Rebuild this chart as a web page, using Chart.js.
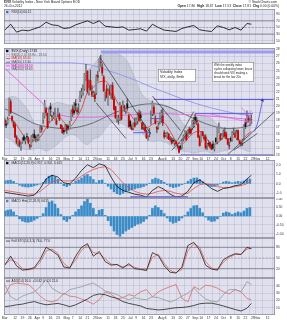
<!DOCTYPE html>
<html>
<head>
<meta charset="utf-8">
<script src="https://cdn.jsdelivr.net/npm/chart.js@4.4.0/dist/chart.umd.min.js"></script>
<style>
  body { margin: 0; background: #fff; width: 287px; height: 320px; overflow: hidden; position: relative; }
  canvas { position: absolute; left: 0; }
</style>
</head>
<body>
<canvas id="rsi" width="287" height="44" style="top:0px"></canvas>
<canvas id="main" width="287" height="116" style="top:44px"></canvas>
<canvas id="macd" width="287" height="38" style="top:160px"></canvas>
<canvas id="hist" width="287" height="40" style="top:198px"></canvas>
<canvas id="stoch" width="287" height="40" style="top:238px"></canvas>
<canvas id="adx" width="287" height="42" style="top:278px"></canvas>
<script>
// trading days counted from 1-Mar-2012 (day 0)
var tickDays   = [0, 7, 12, 17, 22, 26, 31, 36, 42, 46, 51, 56, 61, 64, 70, 75, 80, 85, 89, 94, 99, 106, 109, 114, 119, 124, 129, 133, 138, 143, 148, 153, 158, 163, 168, 171, 178];
var tickLabels = ['Mar', '12', '19', '26', 'Apr', '9', '16', '23', 'May', '7', '14', '21', '29', 'Jun', '11', '18', '25', 'Jul', '9', '16', '23', 'Aug', '6', '13', '20', '27', 'Sep', '10', '17', '24', 'Oct', '8', '15', '22', '29', 'Nov', '12'];

// daily candles, Mar .. Oct
var opens = [
	18.0, 17.4, 17.6, 18.8, 20.6, 18.5, 17.6, 17.3, 15.6, 14.6, 15.0, 14.3, 14.9, 15.6, 15.1, 15.6, 15.4, 14.5, 14.4, 15.3, 16.0, 15.5,
	15.4, 15.3, 16.4, 16.9, 18.0, 18.5, 19.6, 18.9, 17.9, 19.9, 18.6, 18.4, 18.2, 17.9, 18.9, 18.7, 17.3, 16.9, 16.5, 16.7,
	17.2, 17.1, 16.8, 18.1, 19.6, 19.3, 20.3, 19.4, 19.8, 20.9, 21.6, 21.9, 22.4, 24.4, 24.9, 21.9, 23.6, 22.0, 21.5, 21.6, 21.9, 24.3,
	25.2, 26.2, 25.5, 24.1, 21.6, 22.4, 20.3, 22.2, 21.8, 22.9, 21.0, 19.9, 18.2, 18.1, 18.3, 19.9, 19.4, 20.0, 19.3, 20.3, 18.6,
	17.8, 17.0, 16.9, 17.6, 17.7, 17.9, 19.0, 18.7, 17.6, 17.1, 17.0, 16.4, 15.4, 16.2, 18.5, 18.9, 19.8, 18.3, 17.0, 17.0, 17.8,
	18.6, 18.6, 16.2, 15.9, 15.7, 16.0, 15.3, 15.2, 15.1, 14.8, 14.9, 14.4, 14.2, 14.3, 14.1, 15.3, 15.8, 16.1, 16.0, 16.7, 16.7, 16.8, 17.5,
	18.4, 17.9, 17.4, 15.6, 15.0, 16.3, 15.6, 15.6, 14.5, 14.6, 14.8, 14.4, 14.6, 13.9, 15.4, 14.9, 16.4, 15.9, 15.5,
	16.2, 16.3, 16.0, 15.3, 14.4, 15.4, 15.2, 16.3, 16.1, 15.4, 16.5, 15.0, 14.8, 14.8, 15.5, 17.6, 18.0, 18.2, 17.5, 17.8
];
var highs = [
	18.3, 17.9, 18.4, 21.1, 20.9, 18.6, 17.8, 17.6, 15.8, 15.4, 15.2, 14.8, 15.5, 15.9, 15.5, 16.1, 15.6, 14.6, 15.8, 16.0, 16.6, 15.8,
	15.9, 16.0, 17.2, 17.1, 19.0, 20.8, 19.8, 19.0, 19.7, 20.4, 18.7, 19.1, 19.7, 18.3, 19.7, 19.0, 17.4, 17.2, 16.9, 17.4,
	17.4, 17.3, 17.8, 19.4, 20.0, 20.5, 20.9, 19.8, 20.3, 22.1, 22.5, 23.0, 24.6, 25.9, 25.0, 23.7, 25.1, 22.9, 22.1, 22.0, 24.4, 24.9,
	26.7, 27.2, 26.0, 24.3, 22.0, 23.0, 22.4, 22.8, 23.0, 23.3, 21.3, 19.9, 18.5, 18.7, 20.5, 20.1, 20.7, 20.1, 19.6, 21.0, 18.8,
	18.0, 17.3, 17.6, 18.3, 18.3, 19.0, 19.4, 19.2, 17.7, 17.6, 17.3, 16.6, 15.8, 16.8, 19.3, 20.7, 20.1, 18.6, 17.1, 17.6, 19.0,
	19.4, 19.7, 16.5, 16.2, 16.3, 16.1, 15.7, 15.5, 15.4, 15.2, 15.1, 14.6, 14.3, 14.4, 15.3, 15.9, 16.5, 16.4, 16.6, 17.0, 16.9, 18.0, 18.4,
	18.9, 18.4, 17.6, 15.8, 16.4, 16.4, 15.9, 15.9, 14.7, 15.1, 14.9, 14.6, 15.0, 14.6, 15.5, 16.9, 17.6, 16.1, 16.1,
	16.6, 16.9, 16.3, 15.4, 14.9, 15.6, 16.4, 16.9, 16.5, 16.6, 16.6, 15.1, 14.9, 15.3, 17.4, 18.1, 19.3, 18.6, 18.3, 18.7
];
var lows = [
	17.0, 16.9, 17.4, 18.6, 18.9, 17.7, 16.9, 15.5, 14.6, 14.3, 14.2, 13.7, 14.7, 15.0, 14.6, 15.2, 14.6, 13.9, 14.2, 14.9, 15.3, 14.9,
	15.0, 15.1, 16.2, 16.3, 17.5, 18.3, 18.6, 16.8, 17.7, 18.6, 17.9, 18.2, 18.0, 17.3, 18.4, 17.9, 16.8, 16.1, 16.0, 16.4,
	16.1, 16.6, 16.7, 17.9, 18.5, 18.8, 19.3, 18.8, 19.0, 20.6, 21.1, 21.5, 22.2, 23.6, 21.8, 21.5, 22.2, 21.3, 21.3, 20.6, 21.6, 23.5,
	24.9, 25.6, 24.3, 22.0, 20.7, 21.1, 20.1, 21.5, 21.0, 20.9, 19.4, 18.2, 17.7, 17.4, 17.9, 18.0, 19.3, 19.2, 18.9, 19.4, 17.0,
	16.8, 16.6, 16.6, 17.0, 17.3, 17.4, 17.9, 17.9, 16.7, 16.6, 16.3, 15.4, 15.1, 15.6, 17.4, 18.6, 18.7, 17.4, 16.2, 16.7, 17.4,
	17.7, 17.2, 15.4, 15.6, 15.4, 15.2, 15.0, 14.6, 14.7, 14.4, 14.5, 14.0, 13.3, 13.8, 13.9, 15.0, 15.3, 15.1, 15.6, 16.0, 16.0, 16.6, 16.9,
	17.5, 17.3, 15.5, 14.3, 14.9, 15.7, 15.1, 13.9, 13.8, 14.3, 14.0, 13.8, 13.9, 13.6, 14.7, 14.6, 16.2, 15.1, 15.2,
	15.6, 15.6, 15.3, 14.5, 13.9, 14.9, 15.0, 15.9, 15.5, 15.2, 15.1, 14.6, 14.3, 14.4, 15.2, 16.8, 17.6, 17.7, 17.3, 17.5
];
var closes = [
	17.26, 17.29, 18.05, 20.87, 19.07, 17.95, 17.13, 15.64, 14.80, 15.31, 14.47, 14.47, 15.04, 15.13, 15.13, 15.57, 14.82, 14.26, 15.59, 15.47, 15.48, 15.50,
	15.64, 15.66, 16.80, 16.70, 18.81, 20.39, 19.03, 16.95, 19.55, 19.55, 18.46, 18.64, 18.36, 17.44, 18.97, 18.10, 16.82, 16.24, 16.32, 17.15,
	16.60, 16.88, 17.56, 19.16, 18.94, 19.05, 20.08, 19.17, 19.89, 21.87, 21.97, 22.27, 24.49, 25.10, 22.01, 22.48, 22.33, 21.54, 21.76, 21.03, 24.14, 24.06,
	26.66, 26.12, 24.68, 22.16, 21.72, 21.23, 22.09, 21.68, 22.73, 21.11, 19.50, 18.32, 18.38, 18.11, 20.08, 18.11, 20.10, 19.72, 19.45, 19.71, 17.08,
	17.11, 16.66, 17.50, 17.10, 17.98, 18.72, 17.95, 18.33, 16.74, 17.11, 16.48, 15.45, 15.45, 16.27, 18.62, 20.47, 18.98, 17.53, 16.70, 17.22, 18.93,
	18.96, 17.57, 15.64, 15.95, 15.99, 15.32, 15.28, 14.74, 15.02, 14.85, 14.63, 14.28, 13.45, 14.02, 15.01, 15.73, 16.27, 15.18, 16.35, 16.29, 16.17, 17.83, 17.47,
	17.98, 17.74, 15.60, 14.38, 16.28, 15.80, 15.38, 14.05, 14.51, 14.59, 14.18, 13.88, 13.98, 14.51, 14.92, 16.81, 16.95, 15.23, 15.73,
	16.32, 15.71, 15.43, 14.55, 14.33, 15.11, 16.14, 16.35, 15.64, 16.14, 15.21, 14.67, 14.56, 15.10, 17.06, 17.08, 18.46, 18.05, 17.81, 17.81
];

// indicator readings, every 4th day
var sampleDays = [0, 4, 8, 12, 16, 20, 24, 28, 32, 36, 40, 44, 48, 52, 56, 60, 64, 68, 72, 76, 80, 84, 88, 92, 96, 100, 104, 108, 112, 116, 120, 124, 128, 132, 136, 140, 144, 148, 152, 156, 160, 164, 167];
var ma10    = [17.8, 18.2, 17.3, 16.0, 15.0, 15.1, 15.6, 16.9, 18.0, 18.6, 17.7, 17.1, 18.0, 19.6, 21.9, 22.6, 23.4, 23.5, 22.4, 20.6, 19.4, 19.0, 18.0, 17.7, 16.9, 17.4, 17.8, 17.6, 16.4, 15.0, 14.6, 15.4, 16.2, 16.4, 15.6, 14.5, 14.7, 15.5, 15.3, 15.6, 15.1, 15.9, 16.4];
var bbUpper = [20.8, 21.3, 21.2, 20.4, 19.3, 17.6, 17.0, 19.5, 20.2, 20.5, 20.3, 20.1, 20.4, 22.4, 25.0, 25.8, 26.8, 27.5, 27.6, 27.4, 27.0, 26.0, 24.0, 22.0, 21.0, 20.6, 20.3, 20.2, 19.8, 19.2, 17.7, 17.0, 17.7, 18.4, 18.5, 18.2, 17.3, 16.9, 16.8, 16.6, 16.5, 18.2, 18.9];
var bbLower = [15.6, 15.2, 14.4, 13.9, 13.8, 13.9, 14.0, 13.6, 14.0, 14.6, 15.4, 15.9, 15.8, 15.0, 14.5, 15.3, 15.6, 16.7, 17.6, 17.7, 17.4, 16.9, 16.5, 16.4, 15.4, 15.0, 15.1, 14.9, 14.5, 13.8, 13.6, 13.5, 13.3, 13.5, 13.6, 13.3, 13.4, 13.6, 13.8, 14.0, 14.0, 13.6, 13.5];
var rsiValues  = [42, 60, 36, 42, 40, 46, 52, 66, 58, 56, 47, 49, 58, 64, 70, 62, 70, 54, 52, 50, 52, 42, 44, 46, 39, 60, 50, 42, 40, 38, 47, 52, 56, 43, 40, 38, 55, 50, 43, 50, 42, 62, 60];
var macdLine   = [-0.9, -1.0, -1.1, -1.2, -1.3, -1.2, -0.5, 0.5, 0.9, 0.7, 0.1, 0.0, 0.6, 1.4, 2.0, 1.7, 2.1, 1.9, 0.7, -0.3, -0.7, -0.9, -1.1, -1.2, -1.4, -0.7, -0.3, -0.6, -1.1, -1.4, -1.3, -0.8, 0.1, 0.4, 0.0, -0.5, -0.8, -0.5, -0.4, -0.2, -0.1, 0.5, 0.9];
var macdSignal = [-0.7, -0.8, -0.9, -1.0, -1.1, -1.1, -0.8, -0.3, 0.2, 0.4, 0.3, 0.3, 0.4, 0.8, 1.2, 1.5, 1.7, 1.8, 1.5, 0.8, 0.1, -0.4, -0.8, -1.0, -1.1, -1.0, -0.8, -0.7, -0.8, -1.0, -1.1, -1.0, -0.5, -0.1, 0.0, -0.1, -0.3, -0.4, -0.4, -0.3, -0.2, 0.0, 0.3];
var stochK = [30, 55, 28, 16, 18, 23, 46, 80, 70, 58, 25, 22, 55, 80, 90, 55, 68, 40, 30, 32, 22, 34, 20, 18, 15, 65, 57, 28, 10, 8, 25, 85, 94, 72, 30, 19, 16, 45, 55, 62, 60, 80, 76];
var stochD = [32, 45, 38, 20, 17, 20, 38, 70, 75, 63, 35, 22, 45, 72, 86, 65, 62, 48, 33, 31, 25, 30, 24, 19, 16, 52, 60, 35, 15, 9, 18, 70, 90, 80, 40, 22, 17, 38, 52, 60, 60, 75, 77];
var adxValues = [11.5, 12.5, 14, 15, 17, 18.5, 16, 14, 15, 16, 14, 11.5, 14, 18, 22, 27, 29, 28, 25, 23, 18.5, 16, 14.3, 12.5, 9, 8, 7, 7.6, 9, 10, 10.4, 11.3, 13, 15.5, 16.3, 16.3, 14.6, 12.5, 10, 7.6, 5.5, 9.3, 16];
var plusDI    = [42, 25, 21, 26, 29, 32, 39, 49, 37, 32, 28, 35, 37, 39, 42, 44, 39, 33, 31, 28, 24, 21, 24, 22, 21, 25, 24, 21, 18, 21, 26, 30, 37, 29, 22, 19, 18, 28, 35, 35, 32, 46, 42];
var minusDI   = [28, 42, 44, 43, 42, 35, 26, 20, 18, 21, 30, 26, 25, 22, 19, 15, 21, 32, 29, 22, 24, 28, 26, 32, 35, 25, 32, 36, 39, 42, 23, 18, 39, 35, 41, 40, 37, 32, 29, 35, 32, 23, 21];

// histogram, every 2nd day
var histDays = [0, 2, 4, 6, 8, 10, 12, 14, 16, 18, 20, 22, 24, 26, 28, 30, 32, 34, 36, 38, 40, 42, 44, 46, 48, 50, 52, 54, 56, 58, 60, 62, 64, 66, 68, 70, 72, 74, 76, 78, 80, 82, 84, 86, 88, 90, 92, 94, 96, 98, 100, 102, 104, 106, 108, 110, 112, 114, 116, 118, 120, 122, 124, 126, 128, 130, 132, 134, 136, 138, 140, 142, 144, 146, 148, 150, 152, 154, 156, 158, 160, 162, 164, 166];
var histValues = [
	0.30, 0.35, 0.38, 0.25, 0.05, -0.15, -0.28, -0.33, -0.35, -0.30,
	-0.22, -0.12, -0.02, 0.15, 0.50, 0.80, 0.88, 0.70, 0.45, 0.10,
	-0.20, -0.30, -0.15, 0.05, 0.25, 0.40, 0.60, 0.85, 0.98, 0.75,
	0.45, 0.10, 0.35, 0.40, 0.05, -0.25, -0.55, -0.85, -1.05, -1.15,
	-1.00, -0.85, -0.75, -0.65, -0.55, -0.45, -0.40, -0.30, -0.15, 0.05,
	0.45, 0.60, 0.50, 0.35, 0.15, -0.10, -0.30, -0.40, -0.35, -0.25,
	-0.10, 0.05, 0.25, 0.45, 0.60, 0.62, 0.45, 0.20, -0.05, -0.22,
	-0.30, -0.28, -0.15, 0.00, 0.18, 0.25, 0.20, 0.10, 0.18, 0.25,
	0.20, 0.30, 0.45, 0.50
];

// slow moving averages, sparse readings
var ma50Days  = [0, 10, 20, 30, 40, 50, 60, 70, 80, 90, 100, 110, 120, 130, 140, 150, 160, 167];
var ma50      = [19.6, 18.6, 17.5, 17.0, 16.8, 17.0, 17.6, 18.6, 19.5, 20.1, 20.3, 19.9, 19.0, 18.0, 17.2, 16.8, 16.9, 17.3];
var ma100Days = [0, 8, 16, 24, 31, 40, 50, 60, 75, 90, 105, 120, 135, 150, 160, 167];
var ma100     = [25.3, 23.8, 22.2, 20.7, 19.3, 18.6, 18.4, 18.4, 18.6, 18.8, 18.9, 18.8, 18.6, 18.4, 18.2, 18.1];
var ma200Days = [0, 20, 40, 58, 70, 80, 90, 100, 110, 120, 130, 140, 150, 160, 167];
var ma200     = [26.0, 26.1, 26.1, 25.8, 25.0, 24.3, 23.5, 22.6, 21.8, 21.0, 20.3, 19.7, 19.2, 18.8, 18.6];

// hand drawn lines: [day1, value1, day2, value2]
var blackTrends = [[64, 27.0, 99, 16.0], [62, 20.4, 82, 15.4], [100, 21.4, 119, 16.5], [113, 13.7, 129, 17.2], [117, 15.1, 128, 19.2], [151, 13.1, 183, 19.2], [155, 13.7, 171, 16.1]];
var pinkTrends  = [[138, 18.9, 168, 17.6], [160, 19.8, 168, 18.0], [161, 17.0, 167, 19.4]];
// levels: [day1, day2, value]
var blueLevels  = [[101, 182, 20.9], [129, 168, 18.9], [119, 182, 13.05], [87, 99, 16.2], [99, 107, 18.2]];
var resistBand  = [65, 184, 27.65];
var macdLevel   = [85, 124, -1.4];
var arrowDays   = [169, 171, 173, 174.5];
var arrowVals   = [16.4, 17.4, 19.2, 20.8];
var rsiLevels   = [70, 30];
var stochLevels = [80, 20];

var FONT = "'Liberation Sans', Arial, sans-serif";
var PANEL_BG = '#e1e1ed';
var GRID = 'rgba(150,150,190,0.45)';

function pts(days, vals) {
	return days.map(function(d, i) { return {x: d, y: vals[i]}; });
}
function seg(d1, v1, d2, v2) {
	return [{x: d1, y: v1}, {x: d2, y: v2}];
}
function line(data, color, width, extra) {
	return Object.assign({type: 'line', data: data, borderColor: color, borderWidth: width, pointRadius: 0, fill: false, order: 5}, extra || {});
}
function bars(data, color, thick, extra) {
	return Object.assign({type: 'bar', data: data, backgroundColor: color, barThickness: thick, grouped: false, borderWidth: 0, order: 3}, extra || {});
}

function xScale(labelHeight) {
	return {
		type: 'linear', min: -0.5, max: 183, offset: false,
		afterBuildTicks: function(s) { s.ticks = tickDays.map(function(v) { return {value: v}; }); },
		afterFit: function(s) { s.height = labelHeight; s.paddingLeft = 0; s.paddingRight = 0; },
		grid: {color: GRID, lineWidth: 0.6, drawTicks: false},
		border: {display: false},
		ticks: {
			display: labelHeight > 0, autoSkip: false, maxRotation: 0, padding: 1,
			font: {size: 3.4, family: FONT}, color: '#333',
			callback: function(v) { var k = tickDays.indexOf(v); return k < 0 ? '' : tickLabels[k]; }
		}
	};
}
function yScale(min, max, ticks, fmt) {
	return {
		position: 'right', min: min, max: max,
		afterBuildTicks: function(s) { s.ticks = ticks.map(function(v) { return {value: v}; }); },
		afterFit: function(s) { s.width = 12; s.paddingTop = 0; s.paddingBottom = 0; },
		grid: {color: GRID, lineWidth: 0.6, drawTicks: false},
		border: {display: false},
		ticks: {autoSkip: false, padding: 1, font: {size: 3.3, family: FONT}, color: '#333', callback: fmt || function(v) { return v; }}
	};
}

function drawLegend(ctx, a, items) {
	ctx.font = '3.2px ' + FONT;
	ctx.textBaseline = 'top';
	items.forEach(function(it, i) {
		var x = a.left + 2, y = a.top + 1.5 + i * 3.7;
		if (it.bg) {
			ctx.fillStyle = it.bg;
			ctx.fillRect(x - 0.5, y - 0.4, ctx.measureText(it.text).width + 7, 3.6);
		}
		if (it.box) {
			ctx.fillStyle = it.box;
			ctx.fillRect(x, y + 0.3, 2.4, 2.4);
		} else {
			ctx.fillStyle = it.mark;
			ctx.fillRect(x, y + 1.2, 4, 0.7);
		}
		ctx.fillStyle = it.color;
		ctx.fillText(it.text, x + 5.5, y);
	});
}

function decor(legend, extra) {
	return {
		id: 'decor',
		beforeDraw: function(chart) {
			var ctx = chart.ctx, a = chart.chartArea;
			ctx.save();
			ctx.fillStyle = PANEL_BG;
			ctx.fillRect(a.left, a.top, a.right - a.left, a.bottom - a.top);
			ctx.restore();
		},
		afterDraw: function(chart) {
			var ctx = chart.ctx, a = chart.chartArea;
			ctx.save();
			ctx.strokeStyle = '#8c8c9c';
			ctx.lineWidth = 0.8;
			ctx.strokeRect(a.left + 0.4, a.top + 0.4, a.right - a.left - 0.8, a.bottom - a.top - 0.8);
			drawLegend(ctx, a, legend);
			if (extra) extra(ctx, a);
			ctx.restore();
		}
	};
}

function panel(id, datasets, y, labelHeight, padTop, legend, extra) {
	return new Chart(document.getElementById(id), {
		type: 'bar',
		data: {datasets: datasets},
		options: {
			responsive: false, animation: false, devicePixelRatio: 1, events: [],
			layout: {padding: {left: 4, right: 0, top: padTop, bottom: 0}},
			plugins: {legend: {display: false}, tooltip: {enabled: false}},
			scales: {x: xScale(labelHeight), y: y}
		},
		plugins: [decor(legend, extra)]
	});
}

function drawParts(ctx, parts, x, y, alignRight) {
	var w = 0;
	parts.forEach(function(p) { ctx.font = (p[1] ? 'bold ' : '') + '3.3px ' + FONT; w += ctx.measureText(p[0]).width; });
	var cx = alignRight ? x - w : x;
	parts.forEach(function(p) {
		ctx.font = (p[1] ? 'bold ' : '') + '3.3px ' + FONT;
		ctx.fillText(p[0], cx, y);
		cx += ctx.measureText(p[0]).width;
	});
}

function levelLines(levels, color) {
	return levels.map(function(v) { return line(seg(-1, v, 184, v), color, 0.7, {order: 8}); });
}

// ---- RSI + header ----
panel('rsi',
	[line(pts(sampleDays, rsiValues), '#1a1a1a', 0.9, {order: 1}),
	 line(seg(-1, 50, 184, 50), '#8a8a9a', 0.6, {borderDash: [2, 1.5], order: 8})].concat(levelLines(rsiLevels, '#6a6a7a')),
	yScale(0, 106, [10, 30, 50, 70, 90]), 0, 9,
	[{box: '#3a70c0', text: 'RSI(14) 60.12', color: '#222'}],
	function(ctx) {
		ctx.fillStyle = '#222';
		ctx.textBaseline = 'top';
		drawParts(ctx, [['$VIX', 1], [' Volatility Index - New York Board Options EOD', 0]], 4, 0.8, false);
		drawParts(ctx, [['26-Oct-2012', 0]], 4, 4.6, false);
		drawParts(ctx, [['\u00a9 StockCharts.com', 0]], 277, 0.8, true);
		drawParts(ctx, [['Open', 1], [' 17.80  ', 0], ['High', 1], [' 18.67  ', 0], ['Low', 1], [' 17.53  ', 0], ['Close', 1], [' 17.81  ', 0], ['Chg', 1], [' 0.00 (0.00%)', 0]], 279, 4.6, true);
	});

// ---- price panel ----
var bodyColors = closes.map(function(c, i) {
	var up = i === 0 ? c >= opens[0] : c >= closes[i - 1];
	var hollow = c > opens[i];
	if (up) return hollow ? '#909090' : '#151515';
	return hollow ? '#e47878' : '#d40000';
});
var wickData = closes.map(function(c, i) { return {x: i, y: [lows[i], highs[i]]}; });
var bodyData = closes.map(function(c, i) { return {x: i, y: [Math.min(opens[i], c), Math.max(opens[i], c)]}; });

var mainSets = [
	line(pts(sampleDays, bbUpper), 'rgba(150,156,168,0.7)', 0.5, {fill: '+1', backgroundColor: 'rgba(168,175,190,0.42)', tension: 0.3, order: 20}),
	line(pts(sampleDays, bbLower), 'rgba(150,156,168,0.7)', 0.5, {tension: 0.3, order: 21}),
	line(pts(ma200Days, ma200), '#9a9ae8', 1, {cubicInterpolationMode: 'monotone', order: 10}),
	line(pts(ma100Days, ma100), '#e060e0', 0.9, {cubicInterpolationMode: 'monotone', order: 10}),
	line(pts(ma50Days, ma50), '#555560', 0.8, {cubicInterpolationMode: 'monotone', order: 10}),
	line(pts(sampleDays, ma10), '#e03030', 0.8, {cubicInterpolationMode: 'monotone', order: 9}),
	bars(wickData, '#5a5a5a', 0.6, {order: 4}),
	bars(bodyData, bodyColors, 1.2, {order: 3, minBarLength: 0.6})
];
blackTrends.forEach(function(t) { mainSets.push(line(seg(t[0], t[1], t[2], t[3]), '#333333', 0.7, {order: 1})); });
pinkTrends.forEach(function(t) { mainSets.push(line(seg(t[0], t[1], t[2], t[3]), '#e060e0', 0.7, {order: 1})); });
blueLevels.forEach(function(b) { mainSets.push(line(seg(b[0], b[2], b[1], b[2]), '#5a5ae0', 1, {order: 1})); });
mainSets.push(line(seg(resistBand[0], resistBand[2], resistBand[1], resistBand[2]), 'rgba(150,150,240,0.9)', 3, {order: 1}));
mainSets.push(line(pts(arrowDays, arrowVals), '#4a4ae0', 0.8, {
	order: 0, tension: 0.4, pointStyle: 'triangle', pointRotation: 15,
	pointRadius: function(c) { return c.dataIndex === arrowDays.length - 1 ? 2 : 0; },
	pointBackgroundColor: '#3030d0', pointBorderWidth: 0
}));

function noteBox(ctx, x, y, w, h, lines, size, step) {
	ctx.fillStyle = '#ffffff';
	ctx.fillRect(x, y, w, h);
	ctx.strokeStyle = '#777';
	ctx.lineWidth = 0.6;
	ctx.strokeRect(x + 0.3, y + 0.3, w - 0.6, h - 0.6);
	ctx.fillStyle = '#222';
	ctx.font = size + 'px ' + FONT;
	ctx.textBaseline = 'top';
	lines.forEach(function(t, i) { ctx.fillText(t, x + 2, y + 1.6 + i * step); });
}

panel('main', mainSets,
	yScale(12.9, 28.2, [13, 14, 15, 16, 17, 18, 19, 20, 21, 22, 23, 24, 25, 26, 27, 28]), 4, 0,
	[{box: '#111', text: '$VIX (Daily) 17.81', color: '#111'},
	 {mark: '#9aa0aa', text: 'BB(20,2.0) 18.90 - 13.50', color: '#555'},
	 {mark: '#e03030', text: 'MA(10) 16.40', color: '#d02020'},
	 {mark: '#555560', text: 'MA(50) 17.30', color: '#444'},
	 {mark: '#e060e0', text: 'MA(100) 18.10', color: '#b020b0', bg: '#ecc8ee'},
	 {mark: '#9a9ae8', text: 'MA(200) 18.60', color: '#444'}],
	function(ctx) {
		noteBox(ctx, 158, 25, 38, 13, ['Volatility Index', 'VIX, daily, 8mth'], 3.5, 5);
		noteBox(ctx, 212, 18, 42, 20, ['With the weekly index', 'cycles collapsing lower, bears', 'should seek VIX making a', 'break for the low 20s'], 2.9, 4.2);
	});

// ---- MACD ----
panel('macd',
	[bars(pts(histDays, histValues), '#3a8cc8', 1.8, {order: 6}),
	 line(pts(sampleDays, macdLine), '#111', 0.8, {order: 2}),
	 line(pts(sampleDays, macdSignal), '#e05050', 0.8, {order: 3}),
	 line(seg(macdLevel[0], macdLevel[2], macdLevel[1], macdLevel[2]), '#5a5ae0', 1.4, {order: 1})],
	yScale(-1.5, 2.5, [-1, 0, 1, 2], function(v) { return v.toFixed(1); }), 0, 0,
	[{box: '#111', text: 'MACD(12,26,9) 0.917, 0.302, 0.615', color: '#222'}]);

// ---- MACD histogram ----
panel('hist',
	[bars(pts(histDays, histValues), '#3a8cc8', 2, {order: 2})],
	yScale(-1.25, 1.05, [-1, -0.5, 0, 0.5, 1], function(v) { return v.toFixed(2); }), 0, 0,
	[{box: '#3a8cc8', text: 'MACD Hist(12,26,9) 0.615', color: '#222'}]);

// ---- stochastics ----
panel('stoch',
	[line(pts(sampleDays, stochK), '#222', 0.8, {order: 2}),
	 line(pts(sampleDays, stochD), '#e06060', 0.8, {order: 3}),
	 line(seg(-1, 50, 184, 50), '#8a8a9a', 0.6, {borderDash: [2, 1.5], order: 8})].concat(levelLines(stochLevels, '#6a6a7a')),
	yScale(-6, 106, [20, 50, 80]), 0, 0,
	[{mark: '#222', text: 'Full STO(14,3,3) 76.0, 77.0', color: '#222'}]);

// ---- ADX ----
panel('adx',
	[line(pts(sampleDays, adxValues), '#222', 0.8, {order: 1}),
	 line(pts(sampleDays, plusDI), '#8a9a98', 0.8, {order: 2}),
	 line(pts(sampleDays, minusDI), '#d86a6a', 0.8, {order: 3})],
	yScale(0, 51, [10, 20, 30, 40]), 5, 0,
	[{mark: '#222', text: 'ADX(14) 16.0  +DI 42.0  -DI 21.0', color: '#222'}]);
</script>
</body>
</html>
